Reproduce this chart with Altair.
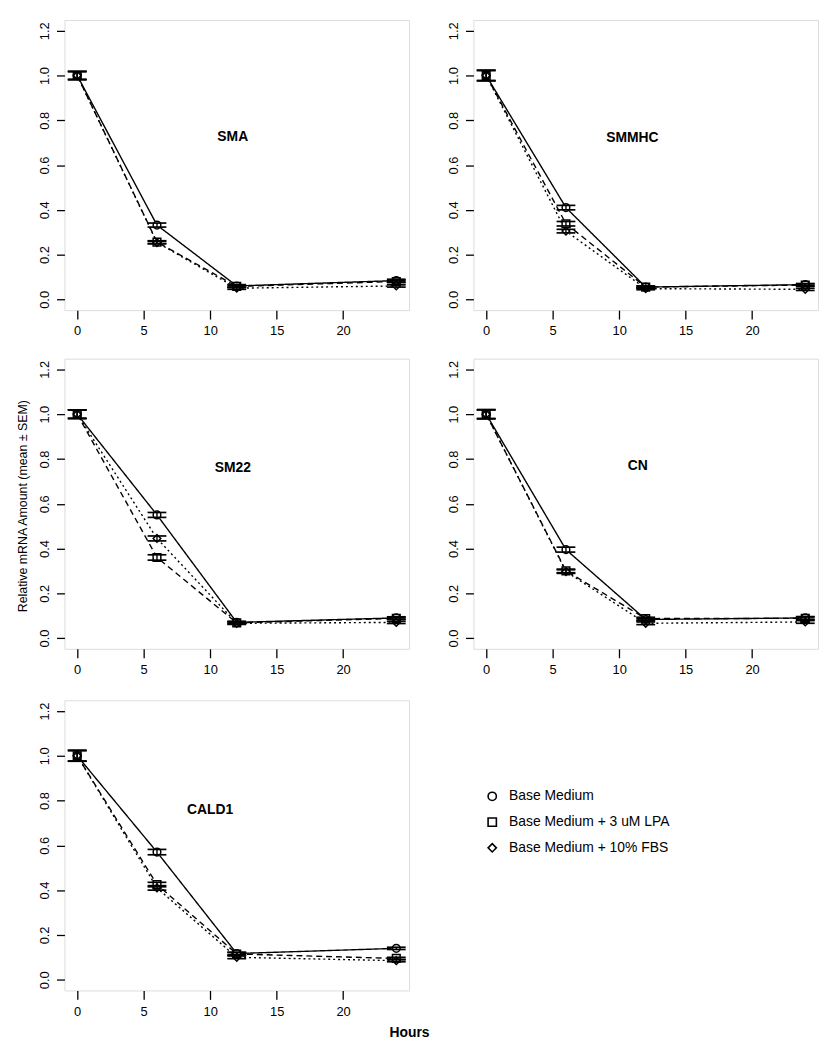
import altair as alt
import pandas as pd

# ---------------- data ----------------
times = [0, 6, 12, 24]
genes = ["SMA", "SMMHC", "SM22", "CN", "CALD1"]
series_names = ["Base Medium", "Base Medium + 3 uM LPA", "Base Medium + 10% FBS"]
series_dash = [[1, 0], [6, 4], [2, 3]]

# means per gene: [Base, LPA, FBS], each over times 0, 6, 12, 24
sma_mean = [[1.0, 0.332, 0.060, 0.084], [1.0, 0.256, 0.058, 0.080], [1.0, 0.254, 0.050, 0.060]]
smmhc_mean = [[1.0, 0.410, 0.055, 0.066], [1.0, 0.338, 0.055, 0.064], [1.0, 0.305, 0.048, 0.045]]
sm22_mean = [[1.0, 0.550, 0.070, 0.090], [1.0, 0.360, 0.068, 0.088], [1.0, 0.445, 0.066, 0.070]]
cn_mean = [[1.0, 0.395, 0.083, 0.090], [1.0, 0.300, 0.087, 0.088], [1.0, 0.297, 0.066, 0.072]]
cald1_mean = [[1.0, 0.570, 0.117, 0.140], [1.0, 0.425, 0.115, 0.095], [1.0, 0.410, 0.100, 0.085]]

# SEM per gene: [Base, LPA, FBS]
sma_sem = [[0.018, 0.009, 0.006, 0.006], [0.018, 0.006, 0.005, 0.005], [0.018, 0.006, 0.005, 0.005]]
smmhc_sem = [[0.023, 0.010, 0.005, 0.005], [0.023, 0.010, 0.005, 0.005], [0.023, 0.008, 0.005, 0.005]]
sm22_sem = [[0.019, 0.011, 0.005, 0.005], [0.019, 0.012, 0.005, 0.005], [0.019, 0.011, 0.005, 0.005]]
cn_sem = [[0.020, 0.011, 0.006, 0.006], [0.020, 0.008, 0.006, 0.006], [0.020, 0.008, 0.006, 0.006]]
cald1_sem = [[0.024, 0.012, 0.006, 0.005], [0.024, 0.010, 0.006, 0.005], [0.024, 0.010, 0.006, 0.005]]

# gene label positions (data units) inside each panel
label_x = [11.7, 11.0, 11.7, 11.4, 10.0]
label_y = [0.725, 0.72, 0.76, 0.77, 0.756]

x_ticks = [0, 5, 10, 15, 20]
y_ticks = [0.0, 0.2, 0.4, 0.6, 0.8, 1.0, 1.2]

means = [sma_mean, smmhc_mean, sm22_mean, cn_mean, cald1_mean]
sems = [sma_sem, smmhc_sem, sm22_sem, cn_sem, cald1_sem]

rows = []
for g, m, s in zip(genes, means, sems):
    for k, name in enumerate(series_names):
        for i, t in enumerate(times):
            rows.append({"gene": g, "series": name, "time": t, "mean": m[k][i],
                         "hi": m[k][i] + s[k][i], "lo": m[k][i] - s[k][i], "order": k})
df = pd.DataFrame(rows)
labels_df = pd.DataFrame({"gene": genes, "lx": label_x, "ly": label_y})

FONT = "Liberation Sans"
W, H = 348, 293

xscale = alt.Scale(domain=[-0.96, 24.96], nice=False, zero=False)
yscale = alt.Scale(domain=[-0.048, 1.248], nice=False, zero=False)
shape_scale = alt.Scale(domain=series_names, range=["circle", "square", "diamond"])

LEGEND = alt.Legend(title=None, orient="none", legendX=425, legendY=90,
                    labelFont=FONT, labelFontSize=14, labelColor="black", labelLimit=400,
                    symbolSize=70, symbolStrokeWidth=1.6, symbolStrokeColor="black",
                    rowPadding=10, labelOffset=10, padding=0)


def make_x_axis(title=False):
    kw = dict(values=x_ticks, grid=False, domain=False, tickSize=9, tickColor="black",
              tickWidth=1.3, labelFontSize=13, labelColor="black", labelPadding=6,
              labelFont=FONT, labelFlush=False)
    if title:
        kw.update(title="Hours", titleFont=FONT, titleFontSize=14, titleFontWeight="bold",
                  titleColor="black", titleX=348, titleY=36, titleAlign="center")
    else:
        kw.update(title=None)
    return alt.Axis(**kw)


def make_y_axis():
    return alt.Axis(values=y_ticks, format=".1f", grid=False, domain=False, tickSize=8,
                    tickColor="black", tickWidth=1.3, labelFontSize=13, labelColor="black",
                    labelPadding=5, labelFont=FONT, labelAngle=270, labelAlign="center",
                    labelBaseline="bottom", labelFlush=False, title=None)


def panel(gene, xtitle=False, legend=False):
    base = alt.Chart(df).transform_filter(alt.datum.gene == gene)
    X = alt.X("time:Q", scale=xscale, axis=make_x_axis(xtitle))
    Y = alt.Y("mean:Q", scale=yscale, axis=make_y_axis())

    line_layers = []
    for name, dash in zip(series_names, series_dash):
        line_layers.append(
            base.transform_filter(alt.datum.series == name)
            .mark_line(color="black", strokeWidth=1.4, strokeDash=dash)
            .encode(x=X, y=Y)
        )
    under = base.mark_point(shape="circle", filled=True, color="white", size=80,
                            opacity=1).encode(x="time:Q", y="mean:Q")
    pts = base.mark_point(filled=False, color="black", strokeWidth=1.5,
                          size=60, opacity=1).encode(
        x="time:Q", y="mean:Q",
        shape=alt.Shape("series:N", scale=shape_scale,
                        legend=LEGEND if legend else None),
    )
    vbar = base.mark_rule(color="black", strokeWidth=1.4).encode(
        x="time:Q", y="lo:Q", y2="hi:Q")
    cap_hi = base.mark_tick(orient="horizontal", size=19, thickness=1.7, color="black",
                            opacity=1).encode(x="time:Q", y="hi:Q")
    cap_lo = base.mark_tick(orient="horizontal", size=19, thickness=1.7, color="black",
                            opacity=1).encode(x="time:Q", y="lo:Q")
    lab = alt.Chart(labels_df).transform_filter(alt.datum.gene == gene).mark_text(
        font=FONT, fontSize=14, fontWeight="bold", color="black",
        align="center", baseline="middle").encode(
        x="lx:Q", y="ly:Q", text="gene:N")
    return alt.layer(*line_layers, under, vbar, pts, cap_hi, cap_lo, lab).properties(
        width=W, height=H)


p1 = panel("SMA")
p2 = panel("SMMHC")
p3 = panel("SM22")
p4 = panel("CN")
p5 = panel("CALD1", xtitle=True, legend=True)


def indep(c):
    return c.resolve_scale(shape="independent").resolve_legend(shape="independent")


row1 = indep(alt.hconcat(p1, p2, spacing=37))
row2 = indep(alt.hconcat(p3, p4, spacing=37))
top = indep(alt.vconcat(row1, row2, spacing=19))

chart = indep(alt.vconcat(top, p5, spacing=22)).properties(
    title=alt.TitleParams("Relative mRNA Amount (mean \u00b1 SEM)", orient="left",
                          anchor="middle", font=FONT, fontSize=12.5, fontWeight="normal",
                          color="black", offset=9, dx=24),
    padding={"left": 8, "top": 6, "right": 2, "bottom": 2},
).configure_view(stroke="black", strokeWidth=1.5).configure(background="white")

chart.save("out.html", embed_options={"renderer": "svg", "actions": False})
